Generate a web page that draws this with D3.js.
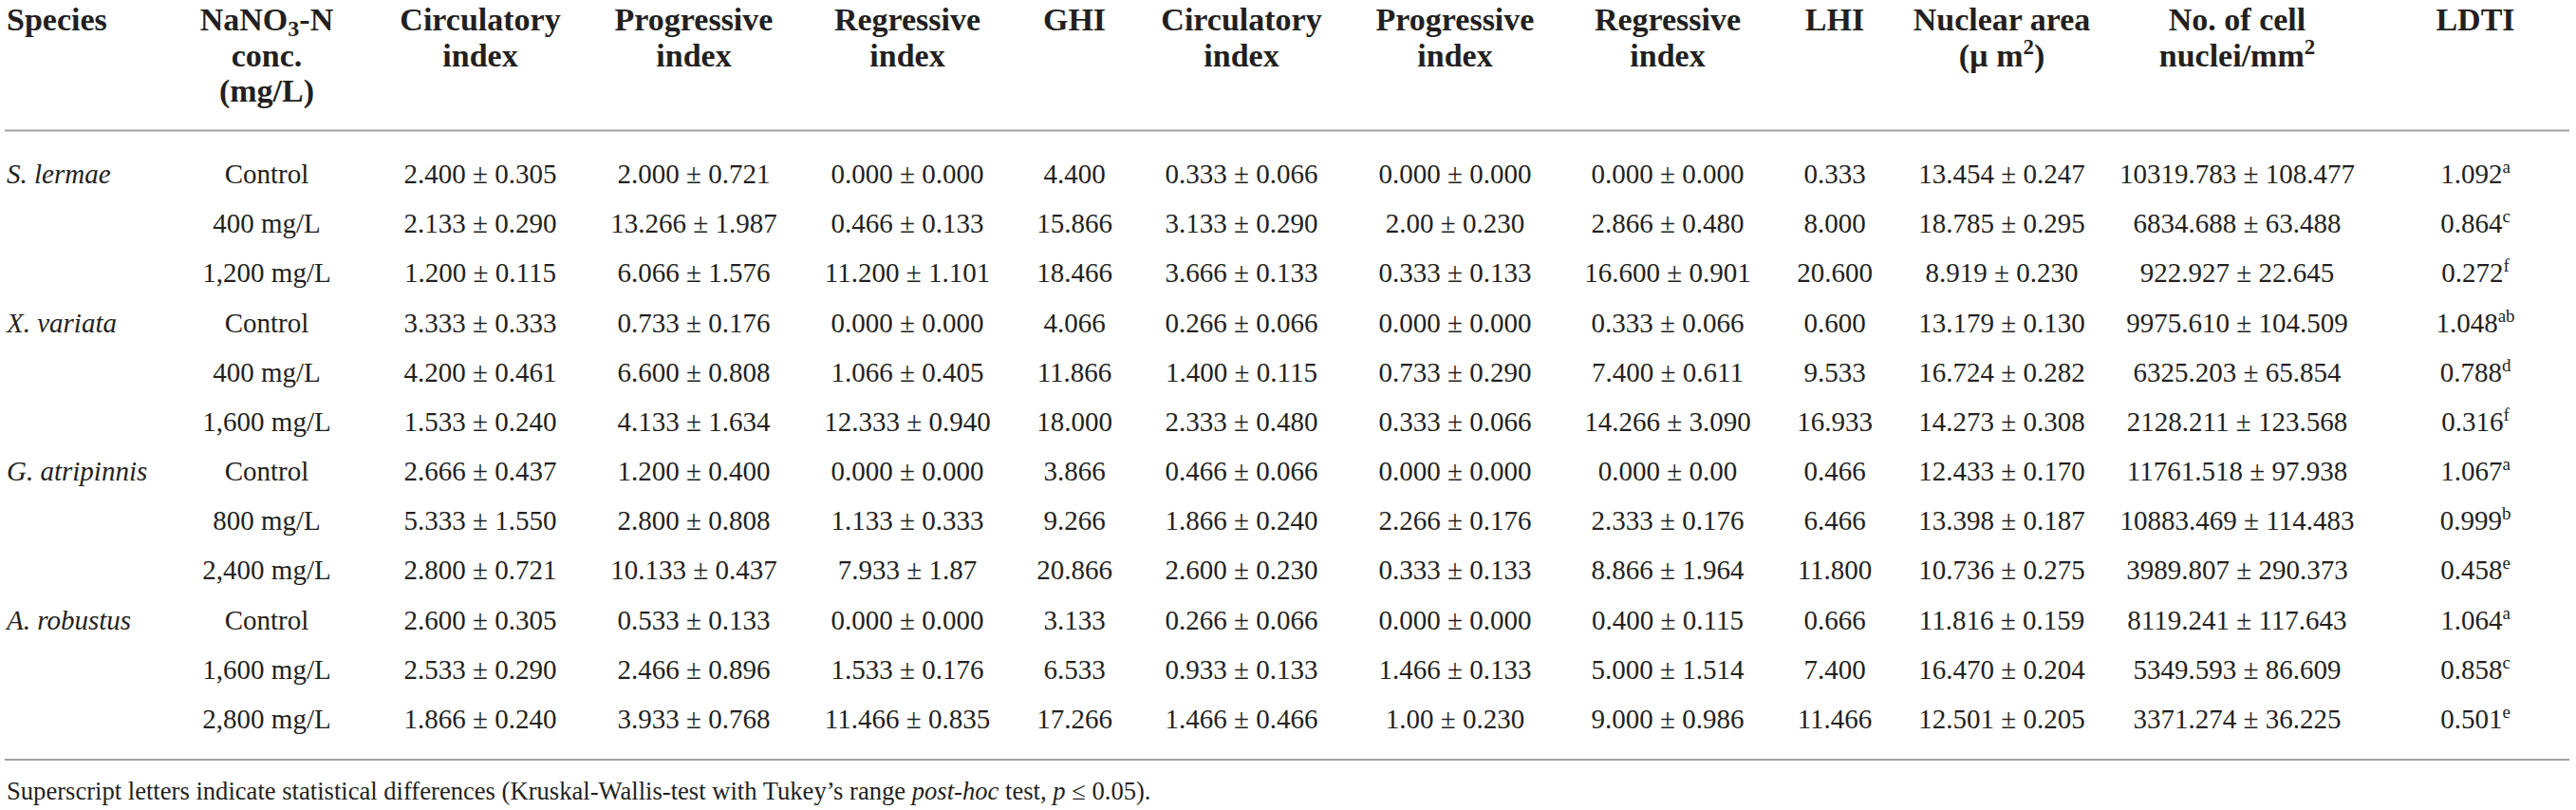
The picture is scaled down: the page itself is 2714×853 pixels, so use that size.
<!DOCTYPE html>
<html><head><meta charset="utf-8">
<script src="https://cdn.jsdelivr.net/npm/d3@7"></script>
<style>
html,body{margin:0;padding:0;background:#fff;}
svg{display:block;}
text{font-family:"Liberation Serif","Times New Roman",serif;fill:#231f20;}
</style></head>
<body>
<script>
// ---- data ----
const columns = ["species","conc","circ1","prog1","reg1","ghi","circ2","prog2","reg2","lhi","nuc","cells","ldti"];
const speciesNames = ["S. lermae","","","X. variata","","","G. atripinnis","","","A. robustus","",""];
const concentrations = ["Control","400 mg/L","1,200 mg/L","Control","400 mg/L","1,600 mg/L","Control","800 mg/L","2,400 mg/L","Control","1,600 mg/L","2,800 mg/L"];
const gillCirculatory = ["2.400 ± 0.305","2.133 ± 0.290","1.200 ± 0.115","3.333 ± 0.333","4.200 ± 0.461","1.533 ± 0.240","2.666 ± 0.437","5.333 ± 1.550","2.800 ± 0.721","2.600 ± 0.305","2.533 ± 0.290","1.866 ± 0.240"];
const gillProgressive = ["2.000 ± 0.721","13.266 ± 1.987","6.066 ± 1.576","0.733 ± 0.176","6.600 ± 0.808","4.133 ± 1.634","1.200 ± 0.400","2.800 ± 0.808","10.133 ± 0.437","0.533 ± 0.133","2.466 ± 0.896","3.933 ± 0.768"];
const gillRegressive = ["0.000 ± 0.000","0.466 ± 0.133","11.200 ± 1.101","0.000 ± 0.000","1.066 ± 0.405","12.333 ± 0.940","0.000 ± 0.000","1.133 ± 0.333","7.933 ± 1.87","0.000 ± 0.000","1.533 ± 0.176","11.466 ± 0.835"];
const GHI = ["4.400","15.866","18.466","4.066","11.866","18.000","3.866","9.266","20.866","3.133","6.533","17.266"];
const liverCirculatory = ["0.333 ± 0.066","3.133 ± 0.290","3.666 ± 0.133","0.266 ± 0.066","1.400 ± 0.115","2.333 ± 0.480","0.466 ± 0.066","1.866 ± 0.240","2.600 ± 0.230","0.266 ± 0.066","0.933 ± 0.133","1.466 ± 0.466"];
const liverProgressive = ["0.000 ± 0.000","2.00 ± 0.230","0.333 ± 0.133","0.000 ± 0.000","0.733 ± 0.290","0.333 ± 0.066","0.000 ± 0.000","2.266 ± 0.176","0.333 ± 0.133","0.000 ± 0.000","1.466 ± 0.133","1.00 ± 0.230"];
const liverRegressive = ["0.000 ± 0.000","2.866 ± 0.480","16.600 ± 0.901","0.333 ± 0.066","7.400 ± 0.611","14.266 ± 3.090","0.000 ± 0.00","2.333 ± 0.176","8.866 ± 1.964","0.400 ± 0.115","5.000 ± 1.514","9.000 ± 0.986"];
const LHI = ["0.333","8.000","20.600","0.600","9.533","16.933","0.466","6.466","11.800","0.666","7.400","11.466"];
const nuclearArea = ["13.454 ± 0.247","18.785 ± 0.295","8.919 ± 0.230","13.179 ± 0.130","16.724 ± 0.282","14.273 ± 0.308","12.433 ± 0.170","13.398 ± 0.187","10.736 ± 0.275","11.816 ± 0.159","16.470 ± 0.204","12.501 ± 0.205"];
const cellNuclei = ["10319.783 ± 108.477","6834.688 ± 63.488","922.927 ± 22.645","9975.610 ± 104.509","6325.203 ± 65.854","2128.211 ± 123.568","11761.518 ± 97.938","10883.469 ± 114.483","3989.807 ± 290.373","8119.241 ± 117.643","5349.593 ± 86.609","3371.274 ± 36.225"];
const LDTI = ["1.092","0.864","0.272","1.048","0.788","0.316","1.067","0.999","0.458","1.064","0.858","0.501"];
const LDTIletters = ["a","c","f","ab","d","f","a","b","e","a","c","e"];
// header lines: each header = array of lines; each line = array of [text, style] segments
const headers = {
  species:[[["Species"]]],
  conc:[[["NaNO"],["3","sub"],["-N"]],[["conc."]],[["(mg/L)"]]],
  circ1:[[["Circulatory"]],[["index"]]],
  prog1:[[["Progressive"]],[["index"]]],
  reg1:[[["Regressive"]],[["index"]]],
  ghi:[[["GHI"]]],
  circ2:[[["Circulatory"]],[["index"]]],
  prog2:[[["Progressive"]],[["index"]]],
  reg2:[[["Regressive"]],[["index"]]],
  lhi:[[["LHI"]]],
  nuc:[[["Nuclear area"]],[["(µ m"],["2","sup"],[")"]]],
  cells:[[["No. of cell"]],[["nuclei/mm"],["2","sup"]]],
  ldti:[[["LDTI"]]]
};
const footnoteParts = [["Superscript letters indicate statistical differences (Kruskal-Wallis-test with Tukey’s range ",""],["post-hoc","i"],[" test, ",""],["p","i"],[" ≤ 0.05).",""]];

// ---- layout ----
const W = 2714, H = 853;
const svg = d3.select("body").append("svg").attr("width",W).attr("height",H);

const colX = d3.scaleOrdinal().domain(columns)
  .range([7,281,506,731,956,1132,1308,1533,1757,1933,2109,2357,2608]);
const rowY = d3.scalePoint().domain(d3.range(concentrations.length)).range([193,767]);
const headY = d3.scalePoint().domain([0,1,2]).range([32,107]);

// header
const hg = svg.append("g");
columns.forEach(c=>{
  headers[c].forEach((line,li)=>{
    const t = hg.append("text")
      .attr("x",colX(c)).attr("y",headY(li))
      .attr("text-anchor", c==="species"?"start":"middle")
      .style("font-weight","bold").style("font-size","34px");
    line.forEach(seg=>{
      const ts = t.append("tspan").text(seg[0]);
      if(seg[1]==="sub"){ ts.style("font-size","24px").attr("dy",6); }
      if(seg[1]==="sup"){ ts.style("font-size","23px").attr("dy",-13); }
    });
    t.selectAll("tspan").each(function(d,i,n){
      const prev = i>0 ? n[i-1] : null;
      if(prev){
        const pd = +d3.select(prev).attr("dy")||0;
        const cd = +d3.select(this).attr("dy")||0;
        if(pd && !cd) d3.select(this).attr("dy",-pd);
      }
    });
  });
});

// rules
const rule = (y)=> svg.append("line").attr("x1",5).attr("x2",2707).attr("y1",y).attr("y2",y)
  .attr("stroke","#a0a0a0").attr("stroke-width",2);
rule(137.5);
rule(800);

// body
const rows = d3.range(concentrations.length).map(i=>({
  species:speciesNames[i], conc:concentrations[i], circ1:gillCirculatory[i], prog1:gillProgressive[i],
  reg1:gillRegressive[i], ghi:GHI[i], circ2:liverCirculatory[i], prog2:liverProgressive[i],
  reg2:liverRegressive[i], lhi:LHI[i], nuc:nuclearArea[i], cells:cellNuclei[i], ldti:LDTI[i], sup:LDTIletters[i]
}));
const bg = svg.append("g");
const rg = bg.selectAll("g.row").data(rows).join("g").attr("class","row")
  .attr("transform",(d,i)=>`translate(0,${rowY(i)})`);
columns.forEach(c=>{
  const t = rg.append("text").attr("x",colX(c)).attr("y",0)
    .attr("text-anchor", c==="species"?"start":"middle")
    .style("font-size","29px")
    .style("font-style", c==="species"?"italic":"normal");
  if(c==="ldti"){
    t.append("tspan").text(d=>d.ldti);
    t.append("tspan").text(d=>d.sup).style("font-size","19px").attr("dy",-11);
  } else {
    t.text(d=>d[c]);
  }
});

// footnote
const ft = svg.append("text").attr("x",7).attr("y",842).style("font-size","26.6px");
footnoteParts.forEach(p=>{
  const ts = ft.append("tspan").text(p[0]);
  if(p[1]==="i") ts.style("font-style","italic");
});
</script>
</body></html>
